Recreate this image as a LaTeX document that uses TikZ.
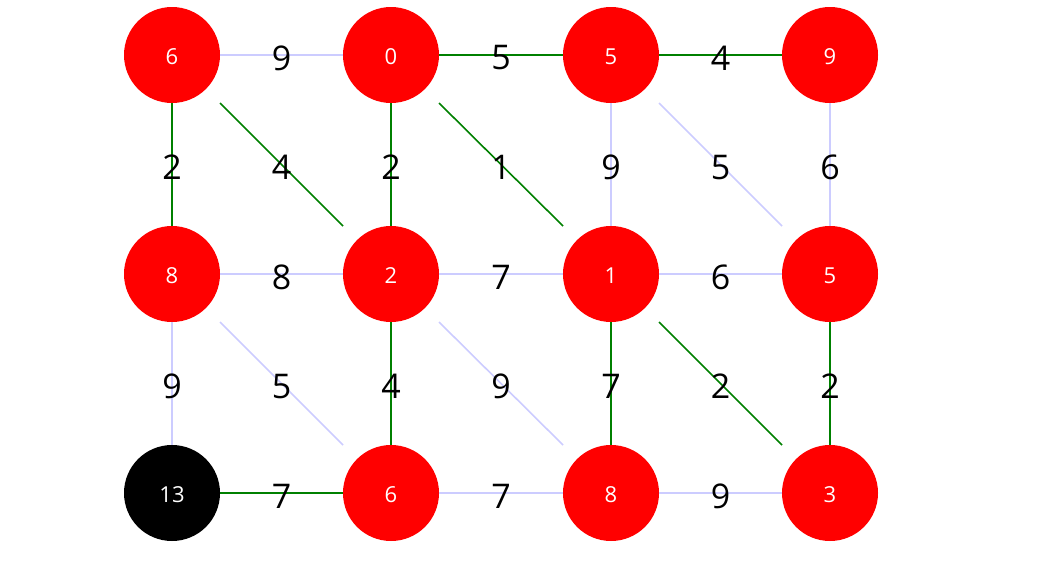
\documentclass[tikz,border=0pt]{standalone}
\usepackage{fontspec}
\setmainfont{Open Sans}
\usetikzlibrary{calc}
\definecolor{lav}{HTML}{CCCCFF}
\definecolor{grn}{HTML}{008000}
\tikzset{
  vert/.style={circle,fill=red,draw=none,minimum size=96pt,inner sep=0pt,text=white,text height=19.7pt,text depth=0pt,font=\fontsize{22}{22}\selectfont},
  goal/.style={vert,fill=black},
  lbl/.style={inner sep=0pt,text=black,font=\fontsize{34}{34}\selectfont,yshift=-3pt},
  pale/.style={draw=lav,line width=1.6pt},
  tree/.style={draw=grn,line width=1.6pt},
}
\begin{document}
\begin{tikzpicture}[x=1pt,y=-1pt]
\useasboundingbox (0,0) rectangle (1038,562);
% vertices
\node[vert] (a0) at (172,55) {6};
\node[vert] (a1) at (391,55) {0};
\node[vert] (a2) at (611,55) {5};
\node[vert] (a3) at (830,55) {9};
\node[vert] (b0) at (172,274) {8};
\node[vert] (b1) at (391,274) {2};
\node[vert] (b2) at (611,274) {1};
\node[vert] (b3) at (830,274) {5};
\node[goal] (c0) at (172,493) {13};
\node[vert] (c1) at (391,493) {6};
\node[vert] (c2) at (611,493) {8};
\node[vert] (c3) at (830,493) {3};
% horizontal edges
\draw[pale] (a0) -- (a1);
\draw[tree] (a1) -- (a2);
\draw[tree] (a2) -- (a3);
\draw[pale] (b0) -- (b1);
\draw[pale] (b1) -- (b2);
\draw[pale] (b2) -- (b3);
\draw[tree] (c0) -- (c1);
\draw[pale] (c1) -- (c2);
\draw[pale] (c2) -- (c3);
% vertical edges
\draw[tree] (a0) -- (b0);
\draw[tree] (a1) -- (b1);
\draw[pale] (a2) -- (b2);
\draw[pale] (a3) -- (b3);
\draw[pale] (b0) -- (c0);
\draw[tree] (b1) -- (c1);
\draw[tree] (b2) -- (c2);
\draw[tree] (b3) -- (c3);
% diagonal edges
\draw[tree] ($(a0)+(48,48)$) -- ($(b1)+(-48,-48)$);
\draw[tree] ($(a1)+(48,48)$) -- ($(b2)+(-48,-48)$);
\draw[pale] ($(a2)+(48,48)$) -- ($(b3)+(-48,-48)$);
\draw[pale] ($(b0)+(48,48)$) -- ($(c1)+(-48,-48)$);
\draw[pale] ($(b1)+(48,48)$) -- ($(c2)+(-48,-48)$);
\draw[tree] ($(b2)+(48,48)$) -- ($(c3)+(-48,-48)$);
% labels
\node[lbl] (la01) at ($(a0)!0.5!(a1)$) {9};
\node[lbl] (la12) at ($(a1)!0.5!(a2)$) {5};
\node[lbl] (la23) at ($(a2)!0.5!(a3)$) {4};
\node[lbl] (lb01) at ($(b0)!0.5!(b1)$) {8};
\node[lbl] (lb12) at ($(b1)!0.5!(b2)$) {7};
\node[lbl] (lb23) at ($(b2)!0.5!(b3)$) {6};
\node[lbl] (lc01) at ($(c0)!0.5!(c1)$) {7};
\node[lbl] (lc12) at ($(c1)!0.5!(c2)$) {7};
\node[lbl] (lc23) at ($(c2)!0.5!(c3)$) {9};
\node[lbl] (lv00) at ($(a0)!0.5!(b0)$) {2};
\node[lbl] (lv01) at ($(a1)!0.5!(b1)$) {2};
\node[lbl] (lv02) at ($(a2)!0.5!(b2)$) {9};
\node[lbl] (lv03) at ($(a3)!0.5!(b3)$) {6};
\node[lbl] (lv10) at ($(b0)!0.5!(c0)$) {9};
\node[lbl] (lv11) at ($(b1)!0.5!(c1)$) {4};
\node[lbl] (lv12) at ($(b2)!0.5!(c2)$) {7};
\node[lbl] (lv13) at ($(b3)!0.5!(c3)$) {2};
\node[lbl] (ld00) at ($(a0)!0.5!(b1)$) {4};
\node[lbl] (ld01) at ($(a1)!0.5!(b2)$) {1};
\node[lbl] (ld02) at ($(a2)!0.5!(b3)$) {5};
\node[lbl] (ld10) at ($(b0)!0.5!(c1)$) {5};
\node[lbl] (ld11) at ($(b1)!0.5!(c2)$) {9};
\node[lbl] (ld12) at ($(b2)!0.5!(c3)$) {2};
\end{tikzpicture}
\end{document}
